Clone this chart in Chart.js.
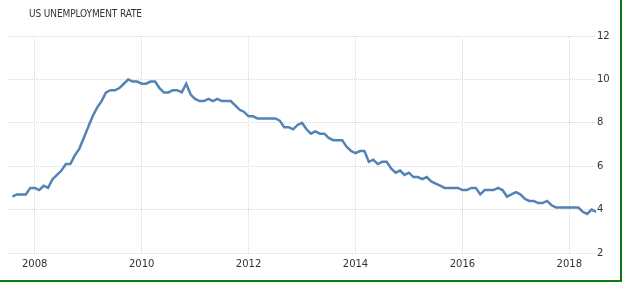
<!DOCTYPE html>
<html>
<head>
<meta charset="utf-8">
<script src="https://cdn.jsdelivr.net/npm/chart.js@4"></script>
<style>
  html, body { margin: 0; padding: 0; background: #fff; }
  #wrap {
    position: relative;
    width: 620px;
    height: 280px;
    border-right: 2px solid #127a12;
    border-bottom: 2px solid #127a12;
  }
  #title {
    position: absolute;
    left: 29px;
    top: 8px;
    font: 10px "DejaVu Sans Condensed", "DejaVu Sans", sans-serif;
    color: #333;
    letter-spacing: -0.1px;
  }
  canvas { display: block; }
</style>
</head>
<body>
<div id="wrap">
  <div id="title">US UNEMPLOYMENT RATE</div>
  <canvas id="chart" width="620" height="280"></canvas>
</div>
<script>
/*******************
 * DATA - monthly rate, Aug 2007 to Jul 2018
 ******************/
const startYear = 2007;
const startMonth = 8;
const rates = [
    4.6, 4.7, 4.7, 4.7, 5.0,
    5.0, 4.9, 5.1, 5.0, 5.4, 5.6, 5.8, 6.1, 6.1, 6.5, 6.8, 7.3,
    7.8, 8.3, 8.7, 9.0, 9.4, 9.5, 9.5, 9.6, 9.8, 10.0, 9.9, 9.9,
    9.8, 9.8, 9.9, 9.9, 9.6, 9.4, 9.4, 9.5, 9.5, 9.4, 9.8, 9.3,
    9.1, 9.0, 9.0, 9.1, 9.0, 9.1, 9.0, 9.0, 9.0, 8.8, 8.6, 8.5,
    8.3, 8.3, 8.2, 8.2, 8.2, 8.2, 8.2, 8.1, 7.8, 7.8, 7.7, 7.9,
    8.0, 7.7, 7.5, 7.6, 7.5, 7.5, 7.3, 7.2, 7.2, 7.2, 6.9, 6.7,
    6.6, 6.7, 6.7, 6.2, 6.3, 6.1, 6.2, 6.2, 5.9, 5.7, 5.8, 5.6,
    5.7, 5.5, 5.5, 5.4, 5.5, 5.3, 5.2, 5.1, 5.0, 5.0, 5.0, 5.0,
    4.9, 4.9, 5.0, 5.0, 4.7, 4.9, 4.9, 4.9, 5.0, 4.9, 4.6, 4.7,
    4.8, 4.7, 4.5, 4.4, 4.4, 4.3, 4.3, 4.4, 4.2, 4.1, 4.1, 4.1,
    4.1, 4.1, 4.1, 3.9, 3.8, 4.0, 3.9
];
const yearTicks = [2008, 2010, 2012, 2014, 2016, 2018];
const rateTicks = [2, 4, 6, 8, 10, 12];

// x as decimal year so the gridlines sit on 1 January
const points = rates.map((r, i) => ({
    x: startYear + (startMonth - 1 + i) / 12,
    y: r
}));

const gridStyle = {
    color: '#d9d9d9',
    lineWidth: 1,
    drawTicks: false
};

const ctx = document.getElementById('chart');
const myChart = new Chart(ctx, {
    type: 'line',
    data: {
        datasets: [{
            data: points,
            borderColor: '#5283b5',
            borderWidth: 2.5,
            pointRadius: 0,
            tension: 0,
            fill: false,
            clip: false
        }]
    },
    options: {
        responsive: false,
        animation: false,
        layout: {
            padding: { top: 36, left: 8, right: 0, bottom: 0 }
        },
        plugins: {
            legend: { display: false },
            tooltip: { enabled: false }
        },
        scales: {
            x: {
                type: 'linear',
                min: 2007.5,
                max: 2018.48,
                border: { display: false, dash: [1, 1] },
                grid: gridStyle,
                afterBuildTicks: (scale) => {
                    scale.ticks = yearTicks.map(v => ({ value: v }));
                },
                afterFit: (scale) => { scale.height = 27; },
                ticks: {
                    padding: 5,
                    color: '#333',
                    font: { family: 'DejaVu Sans', size: 10 },
                    maxRotation: 0,
                    callback: (v) => String(v)
                }
            },
            y: {
                position: 'right',
                min: 2,
                max: 12,
                border: { display: false, dash: [1, 1] },
                grid: gridStyle,
                afterBuildTicks: (scale) => {
                    scale.ticks = rateTicks.map(v => ({ value: v }));
                },
                afterFit: (scale) => { scale.width = 25; },
                ticks: {
                    padding: 2,
                    color: '#333',
                    font: { family: 'DejaVu Sans', size: 10 }
                }
            }
        }
    }
});
</script>
</body>
</html>
